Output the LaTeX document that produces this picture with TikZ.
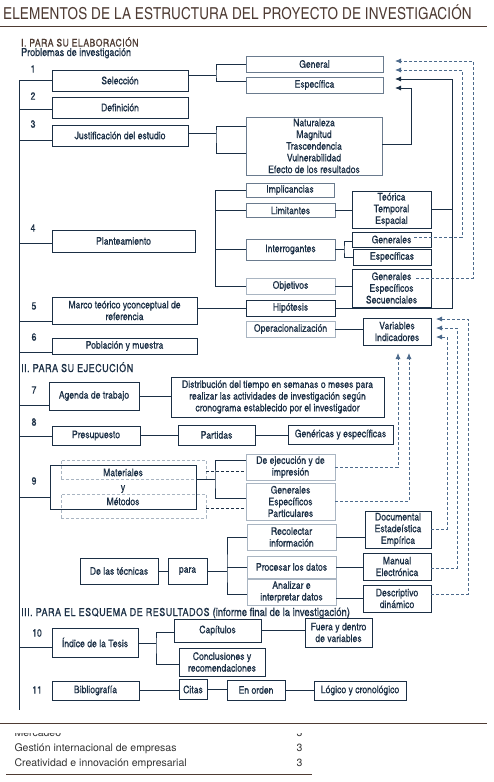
\documentclass[tikz,border=0pt]{standalone}
\usepackage{fontspec}
\setmainfont{texgyreheroscn-regular.otf}[BoldFont=texgyreheroscn-bold.otf]
\newfontfamily\boxfont{texgyreheroscn-regular.otf}[FakeBold=0.5]
\newfontfamily\listfont{texgyreheros-regular.otf}
\usetikzlibrary{arrows.meta}
\definecolor{navy}{HTML}{1B2F45}
\definecolor{slate}{HTML}{6A7B8E}
\definecolor{pale}{HTML}{A9B5C2}
\definecolor{arrowc}{HTML}{4C6A8C}
\definecolor{brownc}{HTML}{4E3B33}
\definecolor{inkc}{HTML}{333333}

\begin{document}
\begin{tikzpicture}[x=1pt, y=-1pt,
  box/.style={draw, rectangle, inner sep=0pt, align=center, line width=0.8pt, text=navy,
    font=\boxfont\fontsize{10.5}{11.7}\selectfont},
  dk/.style={box, draw=navy},
  sl/.style={box, draw=slate},
  lt/.style={box, draw=pale},
  sz/.style 2 args={minimum width=#1pt, minimum height=#2pt},
  num/.style={text=navy, font=\boxfont\fontsize{10.5}{12}\selectfont},
  head/.style={anchor=base west, inner sep=0pt, text=navy, font=\boxfont\fontsize{11}{12}\selectfont\addfontfeature{LetterSpace=4.5}},
  wire/.style={draw=navy, line width=0.8pt},
  dwire/.style={wire, dash pattern=on 3pt off 2pt},
  sarr/.style={wire, -{Latex[length=6pt,width=5pt]}},
  darr/.style={draw=arrowc, line width=0.8pt, dash pattern=on 3pt off 2pt, -{Latex[length=6pt,width=5pt]}}]

  \useasboundingbox (0,0) rectangle (493,782);

  \node[anchor=west, inner sep=0pt, text=brownc, font=\fontsize{16.5}{18}\selectfont\addfontfeature{LetterSpace=0.8}] (title) at (3,12.5)
    {ELEMENTOS DE LA ESTRUCTURA DEL PROYECTO DE INVESTIGACIÓN};
  \draw[brownc, line width=1pt] (0,26) -- (487,26);

  \node[head, text=brownc, font=\boxfont\fontsize{10.5}{12}\selectfont\addfontfeature{LetterSpace=4.5}] (sec1) at (21,46.5) {I. PARA SU ELABORACIÓN};
  \node[anchor=base west, inner sep=0pt, text=navy, font=\boxfont\fontsize{11}{12}\selectfont] (prob) at (21,56) {Problemas de investigación};
  \node[head] (sec2) at (21,372) {II. PARA SU EJECUCIÓN};
  \node[head] (sec3) at (21,616) {III. PARA EL ESQUEMA DE RESULTADOS {\addfontfeature{LetterSpace=0}\fontsize{11.5}{12}\selectfont(informe final de la investigación)}};

  \foreach \n/\x/\y in {1/33/69, 2/33/96, 3/33/124, 4/33/228, 5/34/306, 6/34/337,
                        7/34/390, 8/34/422, 9/34/481, 10/37/633, 11/37/690}
    \node[num] (num\n) at (\x,\y) {\n};

  % I. para su elaboracion
  \node[dk, sz={136}{21}] (seleccion) at (120,80.5) {Selección};
  \node[dk, sz={136}{21}] (definicion) at (120,107.5) {Definición};
  \node[dk, sz={136}{21}] (justificacion) at (120,135.5) {Justificación del estudio};
  \node[dk, sz={143}{22}] (planteamiento) at (123.5,241) {Planteamiento};
  \node[dk, sz={145}{27}] (marco) at (124.5,310.5) {Marco teórico yconceptual de\\referencia};
  \node[dk, sz={145}{16}] (poblacion) at (124.5,346) {Población y muestra};

  \node[sl, sz={137}{16}] (general) at (314.5,64) {General};
  \node[sl, sz={137}{16}] (especifica) at (314.5,85) {Específica};
  \node[sl, sz={136}{58}] (naturaleza) at (314,146)
    {Naturaleza\\Magnitud\\Trascendencia\\Vulnerabilidad\\Efecto de los resultados};
  \node[sl, sz={88}{14}] (implicancias) at (290,190) {Implicancias};
  \node[sl, sz={89}{14}] (limitantes) at (290.5,210.5) {Limitantes};
  \node[sl, sz={89}{21}] (interrogantes) at (290.5,249.5) {Interrogantes};
  \node[lt, sz={89}{16}] (objetivos) at (290.5,286) {Objetivos};
  \node[dk, sz={89}{16}] (hipotesis) at (290.5,308) {Hipótesis};
  \node[lt, sz={89}{16}] (operac) at (290.5,329) {Operacionalización};

  \node[dk, sz={79}{37}] (teorica) at (391.5,209.5) {Teórica\\Temporal\\Espacial};
  \node[dk, sz={79}{15}] (generales) at (391.5,239.5) {Generales};
  \node[dk, sz={78}{16}] (especificas) at (392,257) {Específicas};
  \node[dk, sz={79}{38}] (ges) at (391.5,288) {Generales\\Específicos\\Secuenciales};
  \node[dk, sz={68}{27}] (variables) at (397,331.5) {Variables\\Indicadores};

  % II. para su ejecucion
  \node[dk, sz={90}{28}] (agenda) at (94,396) {Agenda de trabajo};
  \node[dk, sz={213}{40}] (distribucion) at (277.5,397)
    {Distribución del tiempo en semanas o meses para\\realizar las actividades de investigación según\\cronograma establecido por el investigador};
  \node[dk, sz={88}{19}] (presupuesto) at (96,435.5) {Presupuesto};
  \node[dk, sz={77}{20}] (partidas) at (216.5,435) {Partidas};
  \node[dk, sz={105}{19}] (genericas) at (340.5,434.5) {Genéricas y específicas};

  \node[lt, dash pattern=on 3pt off 2pt, sz={145}{19}] (matbox) at (133.5,469.5) {};
  \node[lt, dash pattern=on 3pt off 2pt, sz={145}{24}] (metbox) at (133.5,506) {};
  \node[dk, sz={146}{44}, font=\boxfont\fontsize{10.5}{14.5}\selectfont] (materiales) at (123,487) {Materiales\\y\\Métodos};
  \node[lt, sz={89}{26}] (ejecucion) at (290.5,467) {De ejecución y de\\impresión};
  \node[lt, sz={89}{37}] (gep) at (290.5,501.5) {Generales\\Específicos\\Particulares};

  \node[dk, sz={78}{26}] (tecnicas) at (119,571) {De las técnicas};
  \node[dk, sz={39}{26}] (para) at (187.5,571) {para};
  \node[lt, sz={89}{26}] (recolectar) at (291.5,537) {Recolectar\\información};
  \node[lt, sz={89}{22}] (procesar) at (291.5,567) {Procesar los datos};
  \node[lt, sz={89}{26}] (analizar) at (291.5,592) {Analizar e\\interpretar datos};
  \node[dk, sz={66}{37}] (documental) at (398,529.5) {Documental\\Estadeística\\Empírica};
  \node[dk, sz={68}{27}] (manual) at (397,566.5) {Manual\\Electrónica};
  \node[dk, sz={68}{27}] (descriptivo) at (397,598.5) {Descriptivo\\dinámico};

  % III. para el esquema de resultados
  \node[dk, sz={86}{29}] (indice) at (95,642.5) {Índice de la Tesis};
  \node[dk, sz={87}{23}] (capitulos) at (217.5,630.5) {Capítulos};
  \node[dk, sz={67}{29}] (fuera) at (338.5,632.5) {Fuera y dentro\\de variables};
  \node[dk, sz={86}{28}] (conclusiones) at (222,662) {Conclusiones y\\recomendaciones};
  \node[dk, sz={87}{19}] (bibliografia) at (95.5,690.5) {Bibliografía};
  \node[dk, sz={28}{20}] (citas) at (193,689.5) {Citas};
  \node[dk, sz={58}{20}] (enorden) at (256,690) {En orden};
  \node[dk, sz={92}{19}] (logico) at (360,690.5) {Lógico y cronológico};

  % tronco izquierdo
  \coordinate (trunktop) at (19,81);
  \coordinate (trunkbot) at (19,710);
  \draw[wire] (trunktop) -- (trunkbot);
  \foreach \b/\s in {seleccion/0pt, definicion/-1.5pt, justificacion/-4.5pt, planteamiento/-2pt,
                     marco/-10.5pt, poblacion/-6pt, agenda/-9pt, presupuesto/-0.5pt,
                     materiales/-10pt, indice/-4.5pt}
    \draw[wire] ([yshift=\s]\b.west) -- ([yshift=\s]\b.west -| trunktop);

  % ramas
  \coordinate (fk1) at (216,75);
  \draw[wire] ([yshift=5.5pt]seleccion.east) -- (fk1);
  \draw[wire] (general.west) -| (fk1) |- ([yshift=4pt]especifica.west);
  \coordinate (fk3) at (216,133);
  \draw[wire] ([yshift=2.5pt]justificacion.east) -- (fk3);
  \draw[wire] ([yshift=20pt]naturaleza.west) -| (fk3) |- ([yshift=-7pt]naturaleza.west);
  \draw[wire] (implicancias.west) -- ++(-30,0) |- (objetivos.west);
  \draw[wire] (limitantes.west) -- ++(-30,0);
  \draw[wire] (interrogantes.west) -- ++(-30,0);
  \draw[wire] (limitantes.east) -- (limitantes.east -| teorica.west);
  \coordinate (fk4) at (344,249.5);
  \draw[wire] (interrogantes.east) -- (fk4);
  \draw[wire] ([yshift=-2pt]generales.west) -| (fk4) |- (especificas.west);
  \draw[wire] (objetivos.east) -- (objetivos.east -| ges.west);
  \draw[wire] (hipotesis.west -| marco.east) -- (hipotesis.west);
  \draw[wire] (operac.east) -- (operac.east -| variables.west);

  \draw[wire] (agenda.east) -- (agenda.east -| distribucion.west);
  \draw[wire] (presupuesto.east) -- (presupuesto.east -| partidas.west);
  \draw[wire] (partidas.east) -- (partidas.east -| genericas.west);
  \coordinate (fk9) at (215,479);
  \draw[wire] ([yshift=8pt]materiales.east) -- (fk9);
  \draw[wire] ([yshift=7pt]ejecucion.west) -| (fk9) |- ([yshift=3.5pt]gep.west);
  \draw[dwire] ([yshift=-1.5pt]matbox.east) -- ([yshift=-1.5pt]matbox.east -| ejecucion.west);
  \draw[dwire] ([yshift=-2pt]metbox.east) -- ([yshift=-2pt]metbox.east -| gep.west);

  \draw[wire] (tecnicas.east) -- (para.west);
  \coordinate (fk12) at (227,571);
  \draw[wire] (para.east) -- (fk12);
  \draw[wire] (recolectar.west) -| (fk12) |- ([yshift=-2pt]analizar.west);
  \draw[wire] (procesar.west) -- (procesar.west -| fk12);
  \draw[wire] (recolectar.east) -- (recolectar.east -| documental.west);
  \draw[wire] (procesar.east) -- (procesar.east -| manual.west);
  \draw[wire] (descriptivo.west -| analizar.east) -- (descriptivo.west);

  \coordinate (fk10) at (156,643);
  \draw[wire] ([yshift=-0.5pt]indice.east) -- (fk10);
  \draw[wire] ([yshift=-1.5pt]capitulos.west) -| (fk10) |- ([yshift=-2pt]conclusiones.west);
  \draw[wire] (capitulos.east) -- (capitulos.east -| fuera.west);
  \draw[wire] (bibliografia.east) -- (bibliografia.east -| citas.west);
  \draw[wire] (citas.east) -- (citas.east -| enorden.west);
  \draw[wire] (enorden.east) -- (enorden.east -| logico.west);

  % retornos
  \coordinate (tG1) at (395,61);
  \coordinate (tG2) at (395,70);
  \coordinate (tE1) at (395,79);
  \coordinate (tE2) at (395,88);
  \coordinate (rail) at (452,79);
  \draw[darr] ([xshift=-15pt,yshift=10pt]ges.east) -| (473,61) -- (tG1);
  \draw[darr] ([xshift=-17pt,yshift=2.5pt]generales.east) -| (462,70) -- (tG2);
  \draw[sarr] (hipotesis.east) -| (rail) -- (tE1);
  \draw[wire] (teorica.east) -- (teorica.east -| rail);
  \draw[sarr] ([yshift=2pt]naturaleza.east) -| (411,88) -- (tE2);

  \coordinate (tV1) at (436,319);
  \coordinate (tV2) at (436,328);
  \coordinate (tV3) at (436,337);
  \coordinate (tU1) at (398,353);
  \coordinate (tU2) at (409,353);
  \draw[darr] ([yshift=4.5pt]descriptivo.east) -| (468,319) -- (tV1);
  \draw[darr] ([yshift=-1.5pt]manual.east) -| (457,328) -- (tV2);
  \draw[darr] (documental.east) -| (447,337) -- (tV3);
  \draw[darr] (ejecucion.east) -| (tU1);
  \draw[darr] (gep.east) -| (tU2);

  % pie
  \draw[brownc, line width=1pt] (0,723) -- (487,723);
  \begin{scope}
    \clip (0,733.5) rectangle (493,740);
    \node[anchor=base west, text=inkc, font=\listfont\fontsize{10.5}{12}\selectfont] (item1) at (11,736) {Mercadeo};
    \node[anchor=base west, text=inkc, font=\listfont\fontsize{10.5}{12}\selectfont] (cr1) at (293,736) {3};
  \end{scope}
  \node[anchor=base west, text=inkc, font=\listfont\fontsize{10.5}{12}\selectfont] (item2) at (11,751) {Gestión internacional de empresas};
  \node[anchor=base west, text=inkc, font=\listfont\fontsize{10.5}{12}\selectfont] (cr2) at (293,751) {3};
  \node[anchor=base west, text=inkc, font=\listfont\fontsize{10.5}{12}\selectfont] (item3) at (11,766) {Creatividad e innovación empresarial};
  \node[anchor=base west, text=inkc, font=\listfont\fontsize{10.5}{12}\selectfont] (cr3) at (293,766) {3};
  \draw[brownc, line width=1pt] (6,774) -- (312,774);
\end{tikzpicture}
\end{document}
